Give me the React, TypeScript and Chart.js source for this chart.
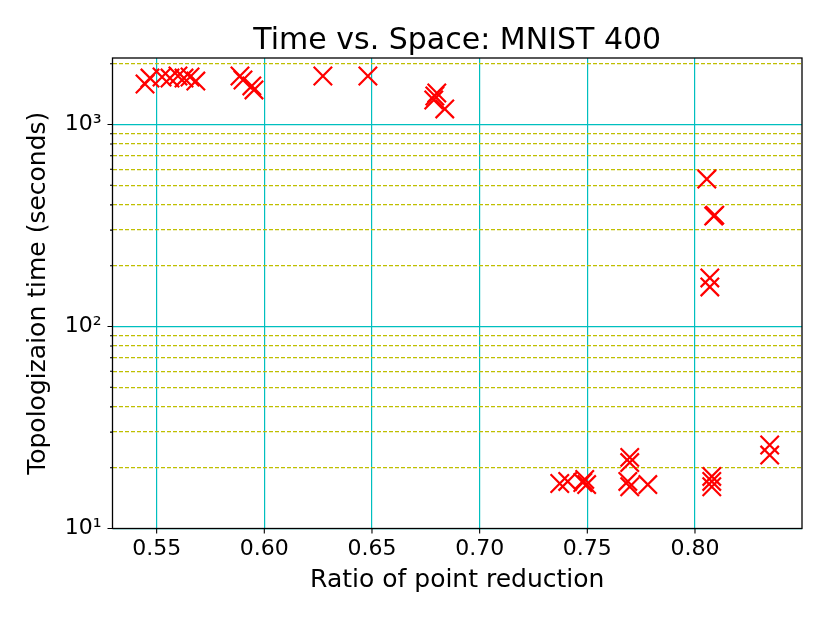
import { useEffect, useRef } from 'react';
import { Chart, registerables } from 'chart.js';

Chart.register(...registerables);

// ratio of point reduction (x) and topologization time in seconds (y)
const RATIO = [
  0.5446, 0.5469, 0.5525, 0.5562, 0.5599, 0.5627, 0.5655, 0.5682, 0.5887, 0.5901,
  0.5942, 0.5952, 0.6272, 0.6481, 0.6787, 0.6792, 0.6801, 0.6838,
  0.8055, 0.8087, 0.8092, 0.8069, 0.8069,
  0.7372, 0.7409, 0.7479, 0.7497, 0.7488, 0.7697, 0.7697, 0.7688, 0.7697, 0.7781,
  0.8078, 0.8078, 0.8078, 0.8347, 0.8347,
];
const SECONDS = [
  1587, 1698, 1718, 1698, 1738, 1698, 1718, 1641, 1738, 1660,
  1552, 1483, 1738, 1738, 1322, 1384, 1432, 1194,
  537, 352, 356, 174, 157,
  16.7, 17.1, 16.9, 16.5, 17.5, 22.5, 21.2, 17.1, 16.1, 16.5,
  18.1, 17.1, 16.1, 25.9, 23.1,
];

const X_TICKS = [0.55, 0.6, 0.65, 0.7, 0.75, 0.8];
const Y_MAJOR = [10, 100, 1000];
const Y_LABELS: Record<number, string> = { 10: '10¹', 100: '10²', 1000: '10³' };
const Y_TICKS = [
  10, 20, 30, 40, 50, 60, 70, 80, 90,
  100, 200, 300, 400, 500, 600, 700, 800, 900,
  1000, 2000,
];

const FONT = 'DejaVu Sans';
const CYAN = '#00bfbf';
const YELLOW = '#bfbf00';

const framePlugin = {
  id: 'frame',
  afterDraw(chart: any) {
    const { ctx, chartArea: a, scales } = chart;
    ctx.save();
    ctx.strokeStyle = '#000';
    ctx.lineWidth = 1.3;
    ctx.strokeRect(a.left, a.top, a.right - a.left, a.bottom - a.top);
    ctx.lineWidth = 1.1;
    ctx.beginPath();
    X_TICKS.forEach((v) => {
      const px = scales.x.getPixelForValue(v);
      ctx.moveTo(px, a.bottom);
      ctx.lineTo(px, a.bottom + 5);
    });
    Y_TICKS.forEach((v) => {
      const py = scales.y.getPixelForValue(v);
      const len = Y_MAJOR.includes(v) ? 5 : 2.5;
      ctx.moveTo(a.left - len, py);
      ctx.lineTo(a.left, py);
    });
    ctx.stroke();
    ctx.restore();
  },
};

export default function App() {
  const canvasRef = useRef<HTMLCanvasElement>(null);
  const chartRef = useRef<Chart | null>(null);

  useEffect(() => {
    if (!canvasRef.current) return;
    if (chartRef.current) chartRef.current.destroy();

    chartRef.current = new Chart(canvasRef.current, {
      type: 'scatter',
      data: {
        datasets: [
          {
            data: RATIO.map((r, i) => ({ x: r, y: SECONDS[i] })),
            pointStyle: 'crossRot',
            pointRadius: 13,
            pointHoverRadius: 13,
            borderColor: '#ff0000',
            backgroundColor: '#ff0000',
            borderWidth: 2.2,
          },
        ],
      },
      options: {
        responsive: false,
        animation: false,
        events: [],
        layout: { padding: { left: 0, right: 28, top: 0, bottom: 0 } },
        plugins: {
          legend: { display: false },
          tooltip: { enabled: false },
          title: {
            display: true,
            text: 'Time vs. Space: MNIST 400',
            fullSize: false,
            color: '#000',
            font: { family: FONT, size: 30, weight: 'normal', lineHeight: 1.0 },
            padding: { top: 26, bottom: 2 },
          },
        },
        scales: {
          x: {
            type: 'linear',
            min: 0.5295,
            max: 0.8497,
            afterBuildTicks: (s: any) => {
              s.ticks = X_TICKS.map((v) => ({ value: v }));
            },
            afterFit: (s: any) => {
              s.height = 94.5;
            },
            grid: { color: CYAN, lineWidth: 1.2, drawTicks: false },
            border: { display: false },
            ticks: {
              autoSkip: false,
              maxRotation: 0,
              padding: 8,
              color: '#000',
              font: { family: FONT, size: 22 },
              callback: (v: any) => Number(v).toFixed(2),
            },
            title: {
              display: true,
              text: 'Ratio of point reduction',
              color: '#000',
              font: { family: FONT, size: 25, lineHeight: 1.2 },
              padding: { top: 0, bottom: 28 },
            },
          },
          y: {
            type: 'logarithmic',
            min: 10,
            max: 2134,
            afterBuildTicks: (s: any) => {
              s.ticks = Y_TICKS.map((v) => ({ value: v, major: Y_MAJOR.includes(v) }));
            },
            afterFit: (s: any) => {
              s.width = 112.5;
            },
            grid: {
              drawTicks: false,
              color: (c: any) => (c.tick && Y_MAJOR.includes(c.tick.value) ? CYAN : YELLOW),
              lineWidth: (c: any) => (c.tick && Y_MAJOR.includes(c.tick.value) ? 1.2 : 1.3),
            },
            border: {
              display: false,
              dash: (c: any) => (c.tick && !Y_MAJOR.includes(c.tick.value) ? [4, 2] : []),
            },
            ticks: {
              autoSkip: false,
              padding: 11,
              color: '#000',
              font: { family: FONT, size: 22 },
              callback: (v: any) => Y_LABELS[Number(v)] ?? '',
            },
            title: {
              display: true,
              text: 'Topologizaion time (seconds)',
              color: '#000',
              font: { family: FONT, size: 25, lineHeight: 1.2 },
              padding: { top: 23, bottom: 0 },
            },
          },
        },
      },
      plugins: [framePlugin],
    });

    return () => chartRef.current?.destroy();
  }, []);

  return (
    <div style={{ position: 'absolute', left: 0, top: 0, width: 830, height: 623, background: '#fff' }}>
      <canvas ref={canvasRef} width={830} height={623} style={{ width: 830, height: 623 }} />
    </div>
  );
}
